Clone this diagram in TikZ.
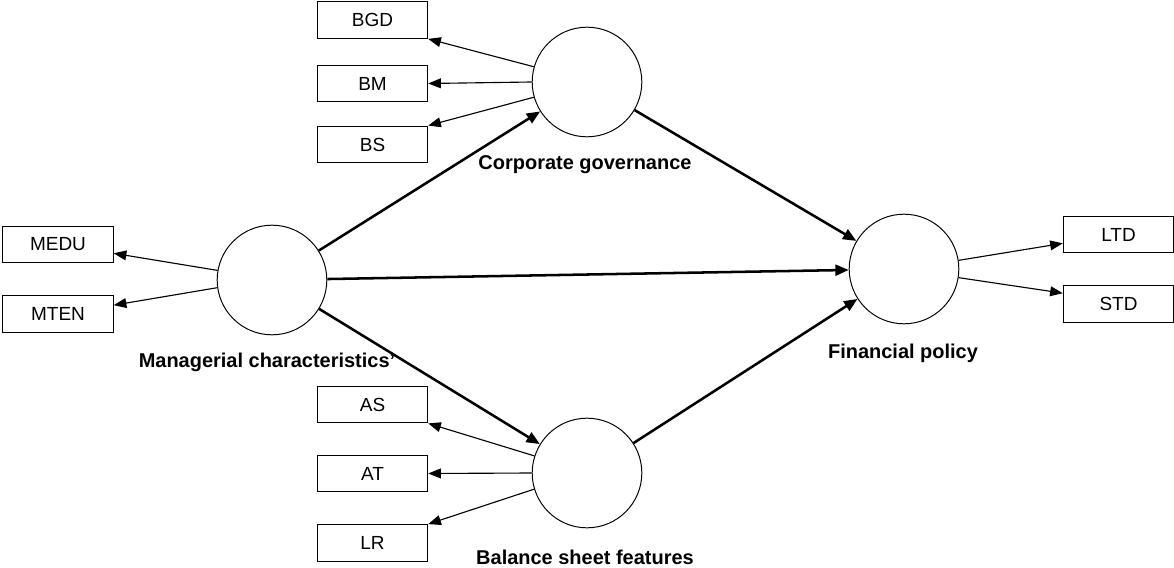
\documentclass[tikz,border=0pt]{standalone}
\usepackage{fontspec}
\setmainfont{Liberation Sans}
\usetikzlibrary{arrows.meta}

\begin{document}
\begin{tikzpicture}[x=0.025cm, y=0.025cm,
  latent/.style={draw, circle, line width=0.7pt, minimum size=2.74cm, inner sep=0pt},
  indicator/.style={draw, rectangle, line width=0.7pt, minimum width=2.76cm, minimum height=0.92cm, inner sep=0pt, font=\fontsize{13.5}{16}\selectfont},
  caption/.style={font=\fontsize{14.2}{16}\selectfont\bfseries},
  load/.style={line width=0.8pt, -{Triangle[length=9pt, width=7pt]}},
  structural/.style={line width=1.8pt, -{Triangle[length=9.5pt, width=7.8pt]}}]
  \useasboundingbox (0,0) rectangle (1174,567);
  % latent constructs
  \node[latent] (cg) at (587,485) {};
  \node[latent] (mc) at (272,287) {};
  \node[latent] (bsf) at (587,94) {};
  \node[latent] (fp) at (904,298) {};
  \node[caption] (cglab) at (585,402) {Corporate governance};
  \node[caption] (mclab) at (267,205) {Managerial characteristics'};
  \node[caption] (fplab) at (903,214) {Financial policy};
  \node[caption] (bsflab) at (585,10) {Balance sheet features};
  % indicators
  \node[indicator] (bgd) at (372.5,547) {BGD};
  \node[indicator] (bm) at (372.5,483.5) {BM};
  \node[indicator] (bs) at (372.5,422.5) {BS};
  \node[indicator] (medu) at (58,322.5) {MEDU};
  \node[indicator] (mten) at (58,253) {MTEN};
  \node[indicator] (as) at (372.5,162.5) {AS};
  \node[indicator] (at) at (372.5,93.5) {AT};
  \node[indicator] (lr) at (372.5,24) {LR};
  \node[indicator] (ltd) at (1118.5,332.5) {LTD};
  \node[indicator] (std) at (1118.5,263) {STD};
  % loadings
  \draw[load] (cg.164) -- (bgd.south east);
  \draw[load] (cg.180) -- (bm.east);
  \draw[load] (cg.196) -- (bs.north east);
  \draw[load] (mc.170) -- (medu.-9);
  \draw[load] (mc.188) -- (mten.9);
  \draw[load] (bsf.162) -- (as.south east);
  \draw[load] (bsf.180) -- (at.east);
  \draw[load] (bsf.197) -- (lr.north east);
  \draw[load] (fp.9.5) -- (ltd.189);
  \draw[load] (fp.-9.5) -- (std.169);
  % structural paths
  \draw[structural] (mc) -- (cg);
  \draw[structural] (mc) -- (fp);
  \draw[structural] (mc) -- (bsf);
  \draw[structural] (cg) -- (fp);
  \draw[structural] (bsf) -- (fp);
\end{tikzpicture}
\end{document}
